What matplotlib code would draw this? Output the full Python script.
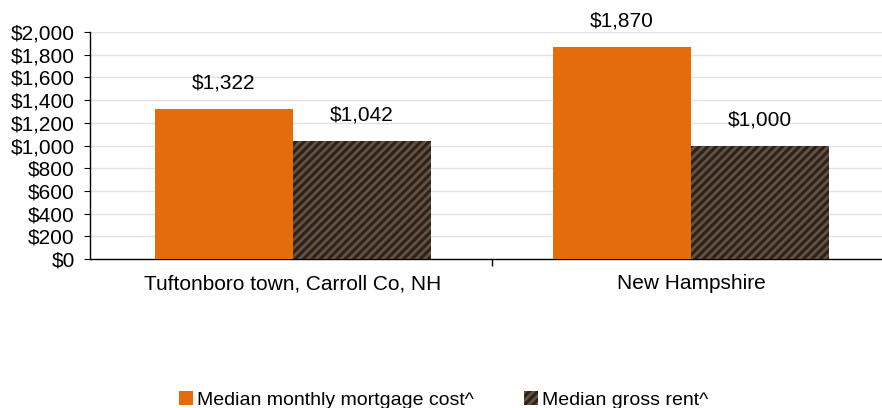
import matplotlib.pyplot as plt
import numpy as np
from matplotlib.ticker import FuncFormatter

plt.rcParams['font.family'] = ['Liberation Sans', 'DejaVu Sans']
plt.rcParams['hatch.color'] = '#555555'
plt.rcParams['hatch.linewidth'] = 2.0

categories = ['Tuftonboro town, Carroll Co, NH', 'New Hampshire']
mortgage = [1322, 1870]
rent = [1042, 1000]
series_names = ['Median monthly mortgage cost^', 'Median gross rent^']

fig = plt.figure(figsize=(8.82, 4.08), dpi=100)
ax = fig.add_axes([0.102, 0.365, 0.898, 0.5564])

x = np.arange(len(categories))
w = 0.347
b1 = ax.bar(x - w / 2, mortgage, w, color='#E46C0A', label=series_names[0], zorder=3)
b2 = ax.bar(x + w / 2, rent, w, facecolor='#3a200b', edgecolor='#555555', linewidth=0,
            hatch='////', label=series_names[1], zorder=3)

for bars in (b1, b2):
    for r in bars:
        h = r.get_height()
        ax.text(r.get_x() + r.get_width() / 2, h + 225, f'${h:,.0f}',
                ha='center', va='center', fontsize=15)

ax.set_ylim(0, 2000)
ax.set_yticks(range(0, 2001, 200))
ax.yaxis.set_major_formatter(FuncFormatter(lambda v, p: f'${v:,.0f}'))
ax.set_xlim(-0.51, 1.48)
ax.set_xticks(x)
ax.set_xticklabels(categories)
ax.set_xticks([0.5], minor=True)
ax.tick_params(axis='x', which='major', length=0, labelsize=15, pad=11)
ax.tick_params(axis='x', which='minor', length=5, direction='out', width=1)
ax.tick_params(axis='y', length=4, labelsize=15, pad=7)
ax.grid(axis='y', color='#e3e3e3', linewidth=1, zorder=0)
for s in ['top', 'right']:
    ax.spines[s].set_visible(False)
ax.spines['left'].set_linewidth(1)
ax.spines['bottom'].set_linewidth(1)

fig.legend(handles=[b1, b2], loc='center', bbox_to_anchor=(0.503, 0.02), ncol=2,
           frameon=False, fontsize=14, handlelength=0.7, handleheight=0.7,
           columnspacing=2.6, handletextpad=0.2)

fig.savefig('out.png', dpi=100)
